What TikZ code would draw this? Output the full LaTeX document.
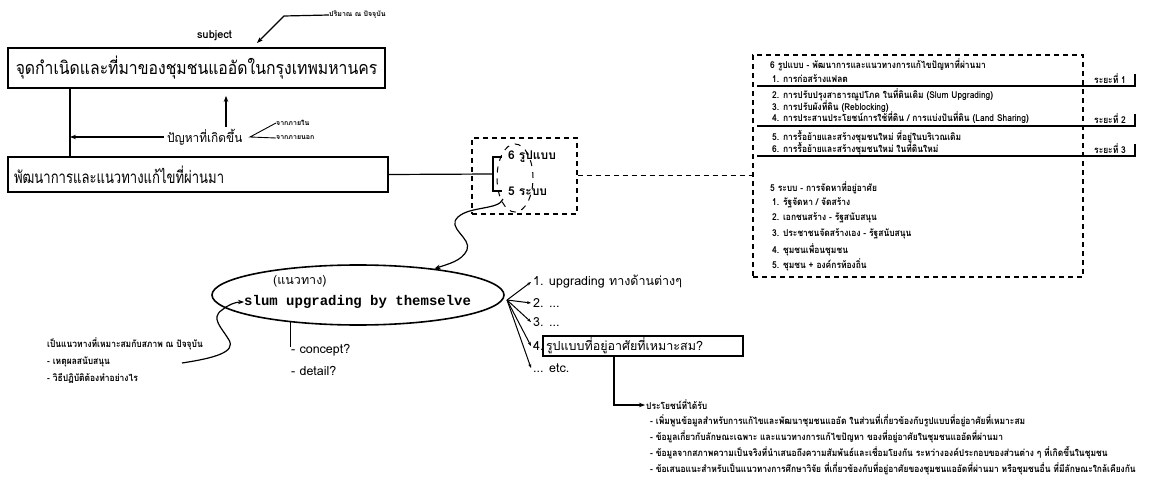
\documentclass[tikz,border=0pt]{standalone}
\usepackage{fontspec}
\usepackage{graphicx}
\setmainfont[Script=Thai]{Loma}
\newfontfamily\monob{Liberation Mono}
\newcommand{\narrowtxt}[1]{\scalebox{0.89}[1]{#1}}
\usetikzlibrary{arrows.meta,shapes.geometric}
\begin{document}
\begin{tikzpicture}[x=1pt,y=-1pt,
  bigbox/.style={draw, line width=1.8pt, inner xsep=6pt, inner ysep=0pt},
  dbox/.style={draw, line width=1.1pt, dash pattern=on 5pt off 4pt},
  tx/.style={inner sep=0pt, anchor=west},
  sm/.style={tx, font=\fontsize{9.5}{11}\selectfont\bfseries},
  tn/.style={tx, font=\fontsize{7}{8}\selectfont\bfseries},
  md/.style={tx, font=\fontsize{12.5}{14}\selectfont},
  mb/.style={tx, font=\fontsize{12}{14}\selectfont\bfseries},
  con/.style={line width=1.2pt},
  arr/.style={con, -{Stealth[length=6pt,width=4.5pt]}},
  sarr/.style={line width=1pt, -{Stealth[length=4pt,width=3pt]}},
]
\useasboundingbox (0,0) rectangle (1159,481);
\fill[white] (0,0) rectangle (1159,481);

% top part
\node[bigbox, minimum width=377pt, minimum height=40pt, font=\fontsize{18}{22}\selectfont] (top) at (196.5,68) {\scalebox{0.875}[1]{จุดกำเนิดและที่มาของชุมชนแออัดในกรุงเทพมหานคร}};
\node[bigbox, minimum height=35pt, text width=368pt, align=left, font=\fontsize{17}{22}\selectfont] (dev) at (198,174.5) {\scalebox{0.77}[1]{พัฒนาการและแนวทางแก้ไขที่ผ่านมา}};

\node[tx, font=\fontsize{11}{13}\selectfont\bfseries] (subj) at (197,36) {subject};
\node[tn] (qty) at (329,15) {ปริมาณ ณ ปัจจุบัน};
\coordinate (qarr) at (257,43);
\draw[arr] (qty.west) -- ++(-45,1) -- (qarr);

\node[md] (prob) at (167,137) {\scalebox{0.95}[1]{ปัญหาที่เกิดขึ้น}};
\node[tn] (inn) at (276,123) {จากภายใน};
\node[tn] (out) at (276,138) {จากภายนอก};
\coordinate (conv) at (250,137);
\draw[line width=0.9pt] (inn.west) -- (conv) -- (out.west);

\coordinate (vx) at (70,0);
\coordinate (ax) at (226,0);
\draw[line width=1.6pt] (top.south -| vx) -- (dev.north -| vx);
\draw[arr] ([xshift=-3pt]prob.west) -- (prob.west -| vx);
\draw[arr] ([yshift=2pt]prob.north -| ax) -- ([yshift=-7pt]top.south -| ax);

% small dashed box
\node[dbox, minimum width=105pt, minimum height=76pt] (sb) at (524.5,176) {};
\node[mb] (six) at (508,157) {6 รูปแบบ};
\node[mb] (five) at (508,191) {5 ระบบ};
\node[draw, ellipse, line width=1pt, dash pattern=on 6pt off 6pt, minimum width=36pt, minimum height=68pt] (de) at (515,178) {};
\coordinate (br) at (493,174);
\draw[con] (dev.east) -- (br);
\draw[con] ([xshift=-6pt]six.west) -| (br) |- ([xshift=-6pt]five.west);

% right dashed box
\node[dbox, minimum width=330pt, minimum height=222pt] (rb) at (918,166) {};
\draw[line width=1pt, dash pattern=on 5pt off 4pt] (sb.east) -- (sb.east -| rb.west);

\node[sm] (h6) at (770,65) {\narrowtxt{6 รูปแบบ - พัฒนาการและแนวทางการแก้ไขปัญหาที่ผ่านมา}};
\node[sm] (a1) at (772,79) {\narrowtxt{1. การก่อสร้างแฟลต}};
\node[sm] (a2) at (772,95) {\narrowtxt{2. การปรับปรุงสาธารณูปโภค ในที่ดินเดิม (Slum Upgrading)}};
\node[sm] (a3) at (772,107) {\narrowtxt{3. การปรับผังที่ดิน (Reblocking)}};
\node[sm] (a4) at (772,118) {\narrowtxt{4. การประสานประโยชน์การใช้ที่ดิน / การแบ่งปันที่ดิน (Land Sharing)}};
\node[sm] (a5) at (772,137) {\narrowtxt{5. การรื้อย้ายและสร้างชุมชนใหม่ ที่อยู่ในบริเวณเดิม}};
\node[sm] (a6) at (772,149) {\narrowtxt{6. การรื้อย้ายและสร้างชุมชนใหม่ ในที่ดินใหม่}};
\node[sm] (p1) at (1094,79) {\narrowtxt{ระยะที่ 1}};
\node[sm] (p2) at (1094,119) {\narrowtxt{ระยะที่ 2}};
\node[sm] (p3) at (1094,149) {\narrowtxt{ระยะที่ 3}};
\foreach \y in {86,126,156}{
  \draw[con] (757,\y) -- (1135,\y) -- (1135,\y-12);
}

\node[sm] (h5) at (770,188) {\narrowtxt{5 ระบบ - การจัดหาที่อยู่อาศัย}};
\node[sm] (b1) at (772,203) {\narrowtxt{1. รัฐจัดหา / จัดสร้าง}};
\node[sm] (b2) at (772,218) {\narrowtxt{2. เอกชนสร้าง - รัฐสนับสนุน}};
\node[sm] (b3) at (772,234) {\narrowtxt{3. ประชาชนจัดสร้างเอง - รัฐสนับสนุน}};
\node[sm] (b5) at (772,250) {\narrowtxt{4. ชุมชนเพื่อนชุมชน}};
\node[sm] (b6) at (772,265) {\narrowtxt{5. ชุมชน + องค์กรท้องถิ่น}};

% ellipse
\node[draw, ellipse, line width=1.6pt, minimum width=292pt, minimum height=60pt, inner sep=0pt] (el) at (358,295) {};
\node[md] (guide) at (273,281) {(แนวทาง)};
\node[tx, font=\monob\bfseries\fontsize{14}{16}\selectfont] (slum) at (244,302) {slum upgrading by themselve};

\coordinate (cs) at (503,199);
\draw[arr] (cs) .. controls (499,210) and (470,206) .. (458,217) .. controls (446,228) and (472,238) .. (467,250) .. controls (462,261) and (448,264) .. (el.19);

\node[sm] (lt1) at (47,344) {\narrowtxt{เป็นแนวทางที่เหมาะสมกับสภาพ ณ ปัจจุบัน}};
\node[sm] (lt2) at (47,362) {\narrowtxt{- เหตุผลสนับสนุน}};
\node[sm] (lt3) at (47,378) {\narrowtxt{- วิธีปฏิบัติต้องทำอย่างไร}};
\coordinate (lc) at (182,363);
\draw[arr] (lc) .. controls (215,358) and (236,352) .. (229,340) .. controls (222,328) and (210,318) .. (222,310) .. controls (228,305) and (235,302) .. (slum.west);

\node[md] (cpt) at (291,350) {- concept?};
\node[md] (dtl) at (291,371) {- detail?};
\draw[con] (el.202.5) -- ([yshift=3pt]el.202.5 |- cpt.west);

% right list
\node[md] (i1) at (533,282) {1. upgrading ทางด้านต่างๆ};
\node[md] (i2) at (533,303) {2. ...};
\node[md] (i3) at (533,322) {3. ...};
\node[md] (i4) at (533,346) {4.};
\node[draw, line width=1.4pt, minimum height=20pt, text width=194pt, align=left, inner xsep=3pt, inner ysep=0pt, font=\fontsize{12.5}{14}\selectfont] (bx4) at (643,346) {รูปแบบที่อยู่อาศัยที่เหมาะสม?};
\node[md] (i5) at (533,368) {... etc.};
\coordinate (fo) at (507,300);
\foreach \n in {i1,i2,i3,i4,i5}{
  \draw[sarr] (fo) -- ([xshift=-2pt]\n.west);
}

% benefits
\coordinate (bxx) at (614,0);
\node[sm] (ben) at (646,405) {\narrowtxt{ประโยชน์ที่ได้รับ}};
\draw[arr] (bx4.south -| bxx) |- ([xshift=-1pt]ben.west);
\node[sm] (c1) at (650,421) {\narrowtxt{- เพิ่มพูนข้อมูลสำหรับการแก้ไขและพัฒนาชุมชนแออัด ในส่วนที่เกี่ยวข้องกับรูปแบบที่อยู่อาศัยที่เหมาะสม}};
\node[sm] (c2) at (650,437) {\narrowtxt{- ข้อมูลเกี่ยวกับลักษณะเฉพาะ และแนวทางการแก้ไขปัญหา ของที่อยู่อาศัยในชุมชนแออัดที่ผ่านมา}};
\node[sm] (c3) at (650,453) {\narrowtxt{- ข้อมูลจากสภาพความเป็นจริงที่นำเสนอถึงความสัมพันธ์และเชื่อมโยงกัน ระหว่างองค์ประกอบของส่วนต่าง ๆ ที่เกิดขึ้นในชุมชน}};
\node[sm] (c4) at (650,469) {\narrowtxt{- ข้อเสนอแนะสำหรับเป็นแนวทางการศึกษาวิจัย ที่เกี่ยวข้องกับที่อยู่อาศัยของชุมชนแออัดที่ผ่านมา หรือชุมชนอื่น ที่มีลักษณะใกล้เคียงกัน}};
\end{tikzpicture}
\end{document}
